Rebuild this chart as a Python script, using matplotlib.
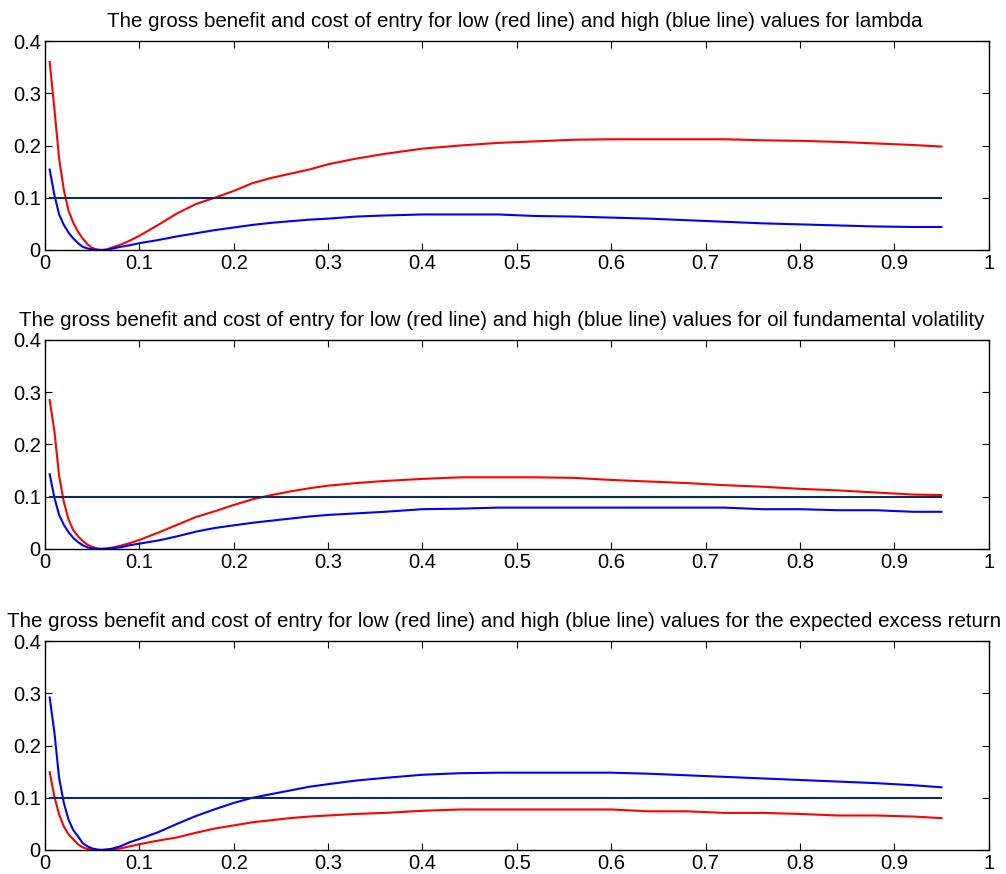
import numpy as np
import matplotlib
matplotlib.use("Agg")
import matplotlib.pyplot as plt

plt.rcParams["font.family"] = ["Liberation Sans", "DejaVu Sans"]

# grid of entry values
x = [0.005, 0.01, 0.015, 0.02, 0.025, 0.03, 0.035, 0.04, 0.045, 0.05, 0.055,
     0.06, 0.065, 0.07, 0.08, 0.09, 0.10, 0.12, 0.14, 0.16, 0.18, 0.20, 0.22,
     0.24, 0.26, 0.28, 0.30, 0.33, 0.36, 0.40, 0.44, 0.48, 0.52, 0.56, 0.60,
     0.64, 0.68, 0.72, 0.76, 0.80, 0.84, 0.88, 0.92, 0.95]

# panel 1: lambda
lambda_low = [0.360, 0.270, 0.175, 0.115, 0.075, 0.052, 0.035, 0.022, 0.011, 0.004, 0.001,
              0.000, 0.001, 0.004, 0.010, 0.018, 0.027, 0.048, 0.070, 0.088, 0.100, 0.113, 0.128,
              0.138, 0.146, 0.154, 0.164, 0.175, 0.184, 0.194, 0.200, 0.205, 0.208, 0.211, 0.212,
              0.212, 0.212, 0.212, 0.210, 0.209, 0.207, 0.204, 0.201, 0.198]
lambda_high = [0.154, 0.105, 0.068, 0.048, 0.033, 0.022, 0.013, 0.006, 0.003, 0.001, 0.000,
               0.000, 0.000, 0.002, 0.006, 0.009, 0.013, 0.019, 0.026, 0.032, 0.038, 0.043, 0.048,
               0.052, 0.055, 0.058, 0.060, 0.064, 0.066, 0.068, 0.068, 0.068, 0.065, 0.064, 0.062,
               0.060, 0.057, 0.054, 0.051, 0.049, 0.047, 0.045, 0.044, 0.044]

# panel 2: oil fundamental volatility
vol_low = [0.285, 0.225, 0.140, 0.090, 0.056, 0.036, 0.024, 0.015, 0.008, 0.004, 0.001,
           0.000, 0.001, 0.002, 0.006, 0.011, 0.017, 0.031, 0.046, 0.061, 0.072, 0.084, 0.095,
           0.103, 0.110, 0.116, 0.121, 0.126, 0.130, 0.134, 0.137, 0.137, 0.137, 0.136, 0.132,
           0.129, 0.126, 0.122, 0.119, 0.115, 0.112, 0.108, 0.104, 0.103]
vol_high = [0.143, 0.098, 0.065, 0.046, 0.032, 0.021, 0.013, 0.007, 0.003, 0.001, 0.000,
            0.000, 0.000, 0.001, 0.003, 0.007, 0.010, 0.016, 0.024, 0.033, 0.040, 0.045, 0.050,
            0.054, 0.058, 0.062, 0.065, 0.068, 0.071, 0.076, 0.077, 0.079, 0.079, 0.079, 0.079,
            0.079, 0.079, 0.079, 0.076, 0.076, 0.074, 0.074, 0.071, 0.071]

# panel 3: expected excess return
ret_low = [0.149, 0.102, 0.068, 0.045, 0.030, 0.020, 0.011, 0.005, 0.002, 0.001, 0.000,
           0.000, 0.000, 0.001, 0.003, 0.007, 0.011, 0.018, 0.024, 0.033, 0.041, 0.047, 0.053,
           0.057, 0.061, 0.064, 0.066, 0.069, 0.071, 0.075, 0.0775, 0.0775, 0.0775, 0.0775, 0.0775,
           0.074, 0.074, 0.071, 0.071, 0.069, 0.066, 0.066, 0.064, 0.061]
ret_high = [0.292, 0.225, 0.138, 0.090, 0.058, 0.038, 0.026, 0.013, 0.007, 0.003, 0.001,
            0.000, 0.001, 0.002, 0.007, 0.015, 0.021, 0.034, 0.050, 0.065, 0.078, 0.090, 0.100,
            0.107, 0.114, 0.121, 0.126, 0.133, 0.138, 0.144, 0.147, 0.148, 0.148, 0.148, 0.148,
            0.146, 0.143, 0.140, 0.137, 0.134, 0.131, 0.128, 0.124, 0.120]

cost = 0.1

base = "The gross benefit and cost of entry for low (red line) and high (blue line) values for "
titles = [base + "lambda", base + "oil fundamental volatility", base + "the expected excess return"]
panels = [(lambda_low, lambda_high), (vol_low, vol_high), (ret_low, ret_high)]

fig = plt.figure(figsize=(10.06, 8.74), dpi=100)
bottoms = [0.714, 0.372, 0.0275]
title_x = [0.498, 0.4836, 0.487]

for b, tx, title, (low, high) in zip(bottoms, title_x, titles, panels):
    ax = fig.add_axes([0.0447, b, 0.938, 0.239])
    ax.plot(x, low, color="red", lw=1.5)
    ax.plot(x, high, color="blue", lw=1.5)
    ax.plot([x[0], x[-1]], [cost, cost], color="#0d2b5e", lw=1.5)
    ax.set_xlim(0, 1)
    ax.set_ylim(0, 0.4)
    ax.set_xticks(np.arange(0, 1.01, 0.1))
    ax.set_xticklabels(["0", "0.1", "0.2", "0.3", "0.4", "0.5", "0.6", "0.7", "0.8", "0.9", "1"])
    ax.set_yticks([0, 0.1, 0.2, 0.3, 0.4])
    ax.set_yticklabels(["0", "0.1", "0.2", "0.3", "0.4"])
    ax.tick_params(direction="in", length=5, width=0.8, top=True, right=True,
                   labelsize=14.5, pad=3)
    for s in ax.spines.values():
        s.set_linewidth(1.0)
    ax.set_title(title, fontsize=14.8, pad=10, x=tx)

fig.savefig("out.png", dpi=100)
